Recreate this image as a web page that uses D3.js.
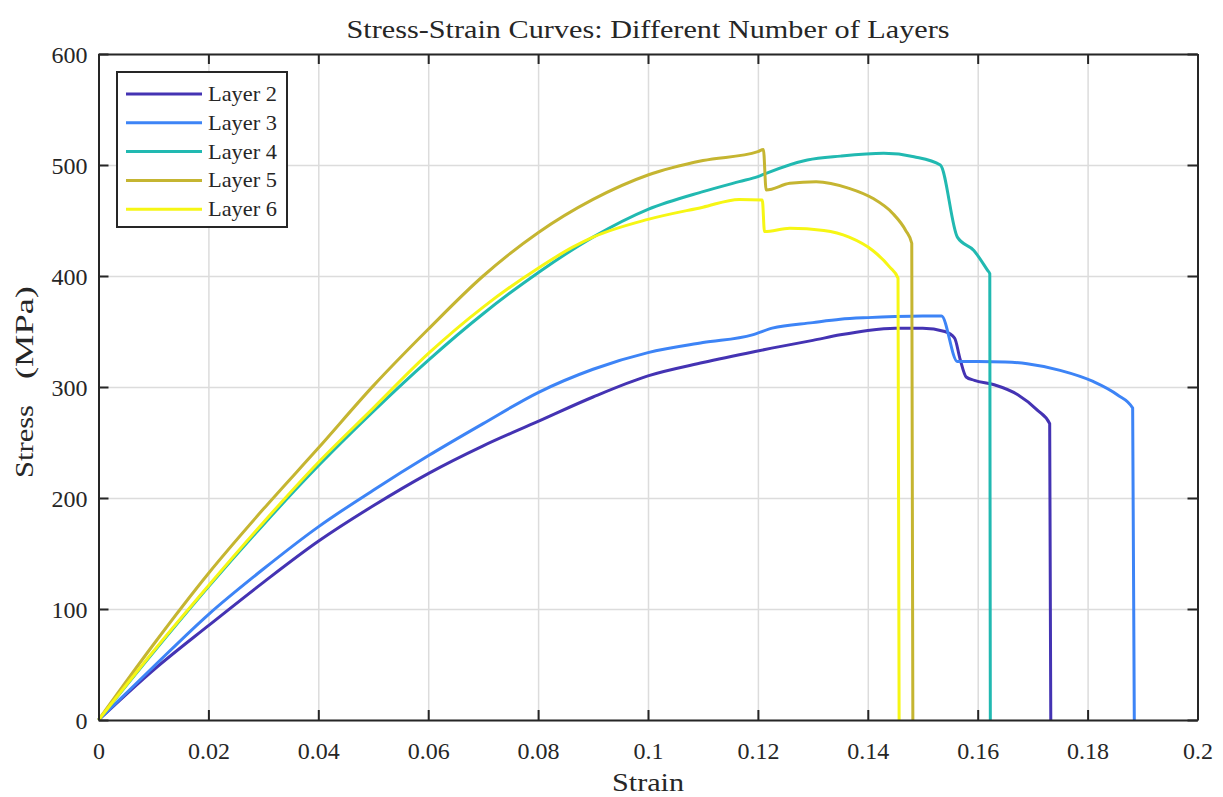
<!DOCTYPE html>
<html>
<head>
<meta charset="utf-8">
<script src="https://cdn.jsdelivr.net/npm/d3@7"></script>
<style>
  body { margin: 0; background: #fff; }
  text { font-family: "Times New Roman", "Liberation Serif", Times, serif; fill: #262626; }
  .grid line { stroke: #dcdcdc; stroke-width: 1.5; }
  .grid path { display: none; }
  .axis path, .axis line { stroke: #262626; stroke-width: 2; }
</style>
</head>
<body>
<div id="chart"></div>
<script>
// Data
// ==============================
var layerNames = ["Layer 2", "Layer 3", "Layer 4", "Layer 5", "Layer 6"];
var layerColors = ["#4433b3", "#3d84f6", "#21b9b1", "#c5b531", "#f6f614"];

var strain2 = [0, 0.01, 0.02, 0.03, 0.04, 0.05, 0.06, 0.07, 0.08, 0.09, 0.1, 0.11, 0.1195, 0.1225, 0.13, 0.135, 0.14, 0.145, 0.15, 0.154, 0.1558, 0.1568, 0.1579, 0.1594, 0.163, 0.1673, 0.1709, 0.1731, 0.1733];
var stress2 = [0, 45, 85, 124, 161, 193, 222, 247, 269, 291, 310, 322, 332, 335, 342, 347, 351, 353, 353, 350, 344, 325, 309, 306, 302, 293, 279, 267, 0];

var strain3 = [0, 0.01, 0.02, 0.03, 0.04, 0.05, 0.06, 0.07, 0.08, 0.09, 0.1, 0.11, 0.119, 0.1226, 0.13, 0.135, 0.14, 0.145, 0.15, 0.1534, 0.1563, 0.16, 0.165, 0.169, 0.175, 0.181, 0.1854, 0.1882, 0.1885];
var stress3 = [0, 48, 95, 136, 174, 207, 238, 267, 295, 316, 331, 340, 347, 353, 358, 361, 362.5, 363.5, 364, 364, 323, 323, 322.5, 321, 315, 305, 293, 281, 0];

var strain4 = [0, 0.01, 0.02, 0.03, 0.04, 0.05, 0.06, 0.07, 0.08, 0.09, 0.1, 0.11, 0.1166, 0.12, 0.1215, 0.129, 0.135, 0.1429, 0.1484, 0.1532, 0.1563, 0.1593, 0.1618, 0.1622, 0.1623];
var stress4 = [0, 61, 120, 176, 229, 278, 324, 366, 403, 435, 460, 476, 485, 489.5, 492.5, 504.5, 508, 510.5, 507.5, 500, 435, 423, 405, 402, 0];

var strain5 = [0, 0.01, 0.02, 0.03, 0.04, 0.05, 0.06, 0.07, 0.08, 0.09, 0.1, 0.11, 0.12, 0.121, 0.1215, 0.1258, 0.1306, 0.1366, 0.1409, 0.1445, 0.1469, 0.148, 0.1482];
var stress5 = [0, 68, 132, 190, 245, 301, 352, 400, 439, 469, 491, 504, 512, 514, 477.5, 483.5, 485, 479, 470, 456.6, 441, 429.5, 0];

var strain6 = [0, 0.01, 0.02, 0.03, 0.04, 0.05, 0.06, 0.07, 0.08, 0.0863, 0.09, 0.1, 0.11, 0.1166, 0.1208, 0.1212, 0.1258, 0.132, 0.1366, 0.1409, 0.144, 0.1455, 0.1457];
var stress6 = [0, 62, 121, 178, 232, 281, 330, 372, 407, 426, 435, 451, 462, 469, 468.5, 440, 443, 441, 435, 423, 408, 398, 0];

var xTicks = [0, 0.02, 0.04, 0.06, 0.08, 0.1, 0.12, 0.14, 0.16, 0.18, 0.2];
var xTickLabels = ["0", "0.02", "0.04", "0.06", "0.08", "0.1", "0.12", "0.14", "0.16", "0.18", "0.2"];
var yTicks = [0, 100, 200, 300, 400, 500, 600];
var yTickLabels = ["0", "100", "200", "300", "400", "500", "600"];

var strains = [strain2, strain3, strain4, strain5, strain6];
var stresses = [stress2, stress3, stress4, stress5, stress6];

function setUpChart() {

  var svgWidth = 1223;
  var svgHeight = 797;

  var margin = { top: 54, right: 25.5, bottom: 77, left: 98.5 };

  var width = svgWidth - margin.left - margin.right;
  var height = svgHeight - margin.top - margin.bottom;

  var svg = d3.select("#chart")
    .append("svg")
    .attr("width", svgWidth)
    .attr("height", svgHeight);

  var chartGroup = svg.append("g")
    .attr("transform", `translate(${margin.left}, ${margin.top})`);

  // Scales
  // ==============================
  var xLinearScale = d3.scaleLinear().domain([0, 0.2]).range([0, width]);
  var yLinearScale = d3.scaleLinear().domain([0, 600]).range([height, 0]);

  // Grid lines
  // ==============================
  chartGroup.append("g")
    .attr("class", "grid")
    .attr("transform", `translate(0, ${height})`)
    .call(d3.axisBottom(xLinearScale).tickValues(xTicks).tickSize(-height).tickFormat(""));

  chartGroup.append("g")
    .attr("class", "grid")
    .call(d3.axisLeft(yLinearScale).tickValues(yTicks).tickSize(-width).tickFormat(""));

  // Curves
  // ==============================
  var line = d3.line()
    .x(d => xLinearScale(d[0]))
    .y(d => yLinearScale(d[1]))
    .curve(d3.curveMonotoneX);

  layerNames.forEach(function(name, i) {
    var pts = strains[i].map((s, j) => [s, stresses[i][j]]);
    chartGroup.append("path")
      .datum(pts)
      .attr("fill", "none")
      .attr("stroke", layerColors[i])
      .attr("stroke-width", 3)
      .attr("stroke-linejoin", "round")
      .attr("d", line);
  });

  // Axes (box with inward ticks)
  // ==============================
  var bottomAxis = d3.axisBottom(xLinearScale).tickValues(xTicks)
    .tickSizeInner(-10).tickSizeOuter(0).tickPadding(22)
    .tickFormat((d, i) => xTickLabels[i]);
  var leftAxis = d3.axisLeft(yLinearScale).tickValues(yTicks)
    .tickSizeInner(-10).tickSizeOuter(0).tickPadding(11)
    .tickFormat((d, i) => yTickLabels[i]);

  chartGroup.append("g")
    .attr("class", "axis")
    .call(d3.axisTop(xLinearScale).tickValues(xTicks).tickSizeInner(-10).tickSizeOuter(0).tickFormat(""));
  chartGroup.append("g")
    .attr("class", "axis")
    .attr("transform", `translate(${width}, 0)`)
    .call(d3.axisRight(yLinearScale).tickValues(yTicks).tickSizeInner(-10).tickSizeOuter(0).tickFormat(""));

  chartGroup.append("g")
    .attr("class", "axis")
    .attr("transform", `translate(0, ${height})`)
    .call(bottomAxis)
    .selectAll("text")
    .attr("font-size", "24px");

  chartGroup.append("g")
    .attr("class", "axis")
    .call(leftAxis)
    .selectAll("text")
    .attr("dy", "0.36em")
    .attr("font-size", "24px");

  // Title and axis labels
  // ==============================
  svg.append("text")
    .attr("x", margin.left + width / 2)
    .attr("y", 38)
    .attr("text-anchor", "middle")
    .attr("font-size", "25px")
    .attr("textLength", 603)
    .attr("lengthAdjust", "spacingAndGlyphs")
    .text("Stress-Strain Curves: Different Number of Layers");

  svg.append("text")
    .attr("x", margin.left + width / 2)
    .attr("y", 791)
    .attr("text-anchor", "middle")
    .attr("font-size", "25px")
    .attr("textLength", 72)
    .attr("lengthAdjust", "spacingAndGlyphs")
    .text("Strain");

  // "Stress (MPa)" is drawn in two parts: the unit is set wide apart in the picture
  svg.append("text")
    .attr("transform", "translate(33, 478) rotate(-90)")
    .attr("font-size", "25px")
    .attr("textLength", 73)
    .attr("lengthAdjust", "spacingAndGlyphs")
    .text("Stress");
  svg.append("text")
    .attr("transform", "translate(33, 379) rotate(-90)")
    .attr("font-size", "25px")
    .attr("textLength", 93)
    .attr("lengthAdjust", "spacingAndGlyphs")
    .text("(MPa)");

  // Legend
  // ==============================
  var legend = svg.append("g").attr("transform", "translate(117, 72)");
  legend.append("rect")
    .attr("width", 170)
    .attr("height", 155)
    .attr("fill", "#fff")
    .attr("stroke", "#262626")
    .attr("stroke-width", 2);

  layerNames.forEach(function(name, i) {
    var y = 22 + i * 28.8;
    legend.append("line")
      .attr("x1", 9).attr("x2", 85)
      .attr("y1", y).attr("y2", y)
      .attr("stroke", layerColors[i])
      .attr("stroke-width", 3);
    legend.append("text")
      .attr("x", 91)
      .attr("y", y + 7)
      .attr("font-size", "22px")
      .attr("textLength", 69)
      .attr("lengthAdjust", "spacingAndGlyphs")
      .text(name);
  });
}

setUpChart();
</script>
</body>
</html>
